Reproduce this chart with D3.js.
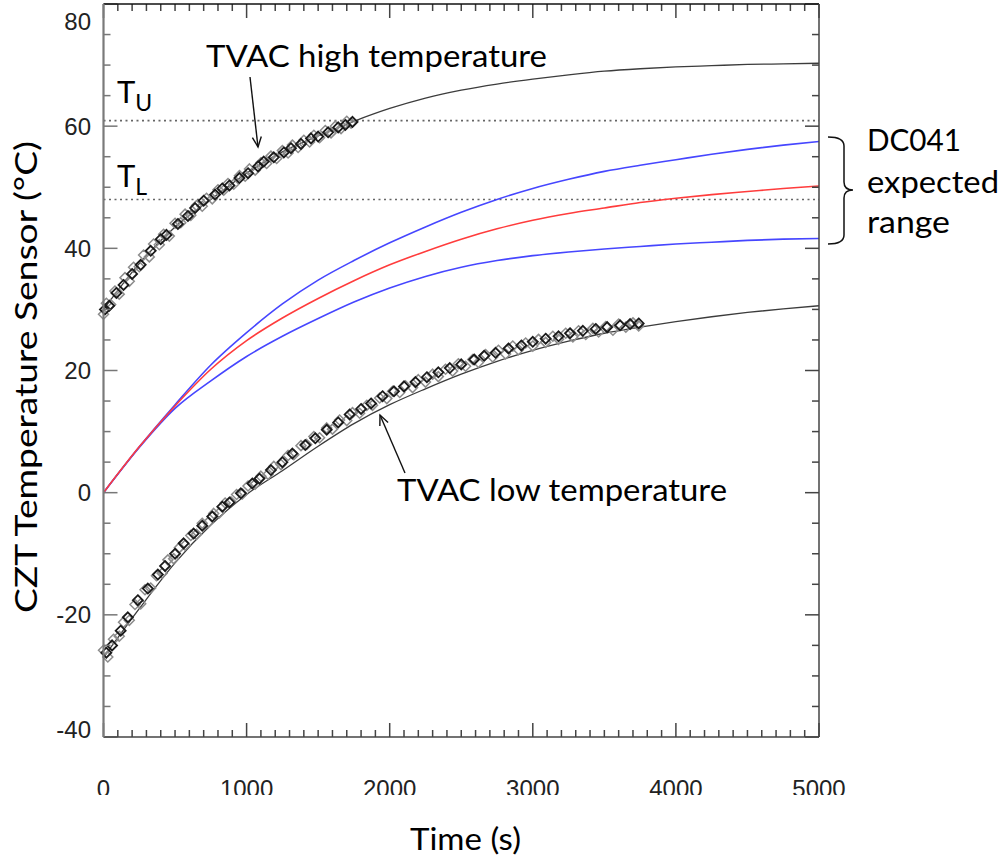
<!DOCTYPE html>
<html>
<head>
<meta charset="utf-8">
<script src="https://cdn.jsdelivr.net/npm/d3@7"></script>
<style>
  body { margin: 0; background: #fff; }
  svg { display: block; }
</style>
</head>
<body>
<svg id="chart"></svg>
<script>
// tick labels
const xTickValues = [0, 1000, 2000, 3000, 4000, 5000];
const yTickValues = [-40, -20, 0, 20, 40, 60, 80];

// dotted limits
const tUpper = 60.9;
const tLower = 48.0;

// model curves, time (s) vs temperature (C)
const curveTimes = [0, 250, 500, 750, 1000, 1250, 1500, 1750, 2000, 2250, 2500, 2750, 3000, 3250, 3500, 3750, 4000, 4250, 4500, 4750, 5000];
const highFit  = [30.0, 37.5, 43.5, 48.0, 52.3, 55.8, 58.4, 60.8, 62.9, 64.6, 65.9, 66.9, 67.7, 68.4, 69.0, 69.4, 69.7, 69.9, 70.1, 70.2, 70.3];
const lowFit   = [-27.0, -19.0, -11.5, -5.3, -0.3, 3.6, 7.6, 11.3, 14.4, 17.0, 19.4, 21.5, 23.3, 24.8, 26.1, 27.1, 28.0, 28.8, 29.5, 30.1, 30.6];
const dcUpper  = [0, 7.5, 14.4, 20.9, 26.2, 30.9, 34.8, 38.0, 40.9, 43.5, 45.9, 48.0, 49.8, 51.3, 52.6, 53.6, 54.5, 55.4, 56.2, 56.9, 57.5];
const dcMid    = [0, 7.5, 14.2, 20.2, 24.9, 28.6, 31.8, 34.7, 37.3, 39.5, 41.5, 43.2, 44.6, 45.7, 46.6, 47.5, 48.2, 48.8, 49.3, 49.8, 50.2];
const dcLower  = [0, 7.4, 13.8, 18.3, 22.3, 25.6, 28.5, 31.2, 33.5, 35.4, 36.9, 38.0, 38.8, 39.4, 39.9, 40.3, 40.7, 41.0, 41.3, 41.5, 41.6];

// TVAC measurements [time, temp]
const highGray = [[0,29.2],[20,31.0],[50,30.8],[80,33.0],[110,32.5],[150,35.2],[180,34.6],[210,36.9],[250,37.0],[280,38.9],[320,38.6],[350,40.7],[390,40.6],[420,42.3],[460,42.0],[500,44.1],[540,44.2],[570,45.6],[610,45.4],[650,47.0],[690,46.9],[720,48.2],[760,48.1],[800,49.6],[840,49.5],[870,50.6],[910,50.5],[950,51.9],[990,51.8],[1020,53.0],[1060,52.8],[1100,54.0],[1140,53.9],[1170,55.1],[1210,54.7],[1250,56.0],[1290,55.6],[1320,56.9],[1360,56.5],[1400,57.7],[1440,57.4],[1470,58.5],[1510,58.1],[1550,59.3],[1590,58.9],[1620,60.0],[1660,59.6],[1700,60.8],[1730,60.5]];
const highDark = [[10,30.0],[40,30.6],[90,32.7],[140,34.0],[200,35.8],[260,37.3],[330,39.6],[400,41.5],[440,42.2],[520,44.0],[590,45.3],[640,46.6],[700,47.8],[780,48.8],[830,49.8],[880,50.3],[950,51.5],[1010,52.3],[1080,53.4],[1120,54.2],[1190,54.9],[1260,55.7],[1310,56.4],[1380,57.1],[1450,58.0],[1500,58.3],[1570,59.0],[1640,59.8],[1690,60.2],[1740,60.7]];
const lowGray = [[0,-25.8],[30,-26.9],[70,-24.0],[110,-23.5],[140,-21.2],[180,-20.9],[220,-18.3],[260,-18.2],[290,-15.9],[330,-15.6],[370,-13.6],[410,-13.2],[450,-11.0],[490,-10.8],[530,-9.0],[570,-8.6],[610,-7.0],[650,-6.8],[690,-5.0],[730,-4.9],[770,-3.4],[810,-3.3],[850,-1.7],[890,-1.5],[930,-0.3],[970,-0.2],[1010,1.1],[1060,1.4],[1100,2.7],[1150,3.0],[1190,4.3],[1240,4.6],[1290,6.1],[1330,6.2],[1380,7.7],[1420,7.9],[1470,9.2],[1510,9.0],[1560,10.6],[1600,10.4],[1650,11.9],[1700,11.8],[1740,13.1],[1790,13.0],[1840,14.3],[1880,14.3],[1930,15.5],[1980,15.4],[2020,16.6],[2070,16.4],[2110,17.5],[2160,17.2],[2200,18.5],[2250,18.1],[2300,19.4],[2340,19.0],[2390,20.2],[2440,19.9],[2480,21.1],[2530,20.7],[2580,21.8],[2620,21.3],[2670,22.6],[2720,22.2],[2760,23.3],[2810,22.7],[2860,24.0],[2900,23.4],[2950,24.5],[3000,24.0],[3040,25.1],[3090,24.6],[3140,25.6],[3180,25.1],[3230,26.1],[3280,25.5],[3320,26.5],[3370,25.9],[3420,26.9],[3460,26.3],[3510,27.2],[3560,26.6],[3600,27.6],[3650,27.1],[3700,27.8],[3740,27.3]];
const lowDark = [[20,-26.2],[60,-25.0],[120,-22.6],[170,-20.4],[240,-17.6],[310,-15.7],[380,-13.4],[430,-12.0],[500,-10.0],[560,-8.3],[630,-6.7],[690,-5.4],[760,-3.9],[830,-2.3],[880,-1.6],[960,-0.1],[1040,1.5],[1090,2.3],[1170,3.7],[1250,5.0],[1320,6.4],[1410,7.8],[1480,8.9],[1560,10.3],[1640,11.5],[1720,12.8],[1800,13.7],[1870,14.6],[1950,15.8],[2030,16.6],[2100,17.4],[2180,18.1],[2260,18.9],[2340,19.7],[2420,20.4],[2500,21.0],[2590,21.8],[2660,22.4],[2740,22.9],[2830,23.6],[2920,24.1],[3000,24.7],[3090,25.2],[3180,25.6],[3260,26.1],[3350,26.5],[3440,26.8],[3520,27.1],[3610,27.4],[3680,27.6],[3740,27.7]];

class TempChart {

    constructor() {
        this.width = 1007;
        this.height = 866;
        this.x = d3.scaleLinear().domain([0, 5000]).range([103.5, 819]);
        this.y = d3.scaleLinear().domain([-40, 80]).range([737, 4]);
        this.svg = d3.select("#chart").attr("width", this.width).attr("height", this.height);
        this.textFont = "Lato, 'Open Sans', sans-serif";
        this.tickFont = "'Liberation Sans', Arial, sans-serif";

        this.drawLimits();
        this.drawCurves();
        this.drawMarkers();
        this.drawFrame();
        this.drawNotes();
    }

    drawLimits() {
        let that = this;
        this.svg.selectAll(".limit")
            .data([tUpper, tLower])
            .join("line")
            .attr("x1", that.x(0)).attr("x2", that.x(5000))
            .attr("y1", d => that.y(d)).attr("y2", d => that.y(d))
            .attr("stroke", "#666").attr("stroke-width", 1.6)
            .attr("stroke-dasharray", "2,3.5");
    }

    drawCurves() {
        let that = this;
        let curves = [
            { vals: highFit, color: "#3c3c3c", w: 1.3 },
            { vals: lowFit, color: "#3c3c3c", w: 1.3 },
            { vals: dcLower, color: "#4646ff", w: 1.6 },
            { vals: dcUpper, color: "#4646ff", w: 1.6 },
            { vals: dcMid, color: "#ff3c3c", w: 1.6 }
        ];
        this.svg.selectAll(".curve")
            .data(curves)
            .join("path")
            .attr("d", d => d3.line().curve(d3.curveMonotoneX)
                .x((v, i) => that.x(curveTimes[i])).y(v => that.y(v))(d.vals))
            .attr("fill", "none")
            .attr("stroke", d => d.color)
            .attr("stroke-width", d => d.w);
    }

    drawMarkers() {
        let that = this;
        let diamond = "M0,-5L5,0L0,5L-5,0Z";
        let sets = [
            { pts: highGray, color: "#8c8c8c", w: 1.5 },
            { pts: lowGray, color: "#8c8c8c", w: 1.5 },
            { pts: highDark, color: "#1a1a1a", w: 1.8 },
            { pts: lowDark, color: "#1a1a1a", w: 1.8 }
        ];
        sets.forEach(s => {
            that.svg.append("g").selectAll("path")
                .data(s.pts)
                .join("path")
                .attr("d", diamond)
                .attr("transform", d => "translate(" + that.x(d[0]) + "," + that.y(d[1]) + ")")
                .attr("fill", "none")
                .attr("stroke", s.color)
                .attr("stroke-width", s.w);
        });
    }

    drawFrame() {
        let that = this;
        let x = this.x, y = this.y;
        let x0 = x.range()[0], x1 = x.range()[1], y0 = y.range()[0], y1 = y.range()[1];
        let xMinor = d3.range(0, 5001, 100);
        let yMinor = d3.range(-40, 81, 5);

        let frame = this.svg.append("g").attr("stroke", "#444").attr("stroke-width", 1.5);

        // ticks on all four sides, pointing inward
        frame.selectAll(".xb").data(xMinor).join("line")
            .attr("x1", d => x(d)).attr("x2", d => x(d))
            .attr("y1", y0).attr("y2", d => y0 - (d % 1000 === 0 ? 14 : 7));
        frame.selectAll(".xt").data(xMinor).join("line")
            .attr("x1", d => x(d)).attr("x2", d => x(d))
            .attr("y1", y1).attr("y2", d => y1 + (d % 1000 === 0 ? 14 : 7));
        frame.selectAll(".yl").data(yMinor).join("line")
            .attr("y1", d => y(d)).attr("y2", d => y(d))
            .attr("x1", x0).attr("x2", d => x0 + (d % 20 === 0 ? 14 : 7))
            .attr("stroke", "#777");
        frame.selectAll(".yr").data(yMinor).join("line")
            .attr("y1", d => y(d)).attr("y2", d => y(d))
            .attr("x1", x1).attr("x2", d => x1 - (d % 20 === 0 ? 14 : 7));

        frame.append("line").attr("x1", x0).attr("x2", x1).attr("y1", y0).attr("y2", y0);
        frame.append("line").attr("x1", x0).attr("x2", x1).attr("y1", y1).attr("y2", y1).attr("stroke", "#111");
        frame.append("line").attr("x1", x1).attr("x2", x1).attr("y1", y1).attr("y2", y0);
        frame.append("line").attr("x1", x0).attr("x2", x0).attr("y1", y1).attr("y2", y0)
            .attr("stroke", "#7a7a7a").attr("stroke-width", 2.2);

        // tick labels (the x labels are cut by the picture edge)
        this.svg.append("clipPath").attr("id", "xlabclip")
            .append("rect").attr("x", 0).attr("y", 740).attr("width", 846).attr("height", 55);

        this.svg.append("g").attr("clip-path", "url(#xlabclip)")
            .selectAll("text").data(xTickValues).join("text")
            .attr("x", d => x(d)).attr("y", 797)
            .attr("text-anchor", "middle")
            .style("font-family", that.tickFont).style("font-size", "24px").attr("fill", "#222")
            .text(d => d);

        this.svg.append("g")
            .selectAll("text").data(yTickValues).join("text")
            .attr("x", 91)
            .attr("y", d => Math.min(730, Math.max(22, y(d))))
            .attr("dy", "0.35em")
            .attr("text-anchor", "end")
            .style("font-family", that.tickFont).style("font-size", "24px").attr("fill", "#222")
            .text(d => d);

        // axis titles
        this.svg.append("text")
            .attr("x", 410).attr("y", 850)
            .attr("textLength", 111).attr("lengthAdjust", "spacingAndGlyphs")
            .style("font-family", that.textFont).style("font-size", "31px")
            .text("Time (s)");

        this.svg.append("text")
            .attr("transform", "translate(37,613) rotate(-90)")
            .attr("textLength", 472).attr("lengthAdjust", "spacingAndGlyphs")
            .style("font-family", that.textFont).style("font-size", "31px")
            .text("CZT Temperature Sensor (\u00B0C)");
    }

    arrow(from, to) {
        let ang = Math.atan2(to[1] - from[1], to[0] - from[0]);
        let len = 11, spread = 0.42;
        let g = this.svg.append("g").attr("stroke", "#111").attr("stroke-width", 1.4).attr("fill", "none");
        g.append("line").attr("x1", from[0]).attr("y1", from[1]).attr("x2", to[0]).attr("y2", to[1]);
        g.append("path").attr("d",
            "M" + (to[0] - len * Math.cos(ang - spread)) + "," + (to[1] - len * Math.sin(ang - spread)) +
            "L" + to[0] + "," + to[1] +
            "L" + (to[0] - len * Math.cos(ang + spread)) + "," + (to[1] - len * Math.sin(ang + spread)));
    }

    drawNotes() {
        let that = this;
        let note = (x, y, txt, len) => {
            let t = that.svg.append("text")
                .attr("x", x).attr("y", y)
                .style("font-family", that.textFont).style("font-size", "31px").attr("fill", "#000")
                .text(txt);
            if (len) t.attr("textLength", len).attr("lengthAdjust", "spacingAndGlyphs");
            return t;
        };

        note(206, 67, "TVAC high temperature", 341);
        this.arrow([250, 77], [258, 147]);

        note(397, 501, "TVAC low temperature", 330);
        this.arrow([405, 473], [380, 415]);

        // T_U and T_L labels
        [["U", 103], ["L", 187]].forEach(d => {
            let t = that.svg.append("text")
                .attr("x", 117).attr("y", d[1])
                .style("font-family", that.textFont).style("font-size", "31px");
            t.append("tspan").text("T");
            t.append("tspan").attr("dy", 8).style("font-size", "23px").text(d[0]);
        });

        // bracket for the DC041 range
        this.svg.append("path")
            .attr("d", "M828,137Q844,137 844,146L844,182Q844,190 853,190Q844,190 844,198L844,235Q844,244 828,244")
            .attr("fill", "none").attr("stroke", "#111").attr("stroke-width", 1.5);

        note(867, 151, "DC041", 94);
        note(867, 193, "expected", 132);
        note(867, 233, "range", 83);
    }
}

new TempChart();
</script>
</body>
</html>
